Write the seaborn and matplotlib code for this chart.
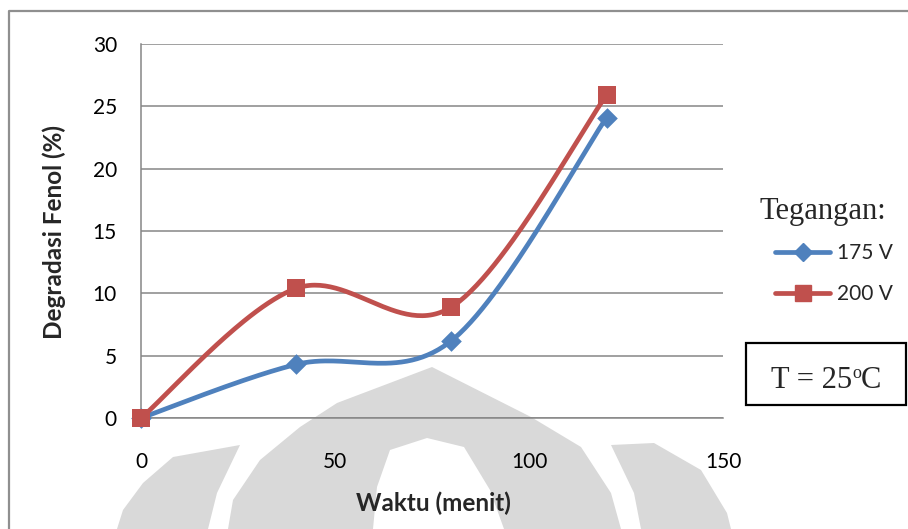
import numpy as np
import pandas as pd
import matplotlib
matplotlib.use("Agg")
import matplotlib.pyplot as plt
import seaborn as sns
from matplotlib.lines import Line2D
from matplotlib.patches import Polygon, Rectangle
from matplotlib.transforms import offset_copy

# Data: phenol degradation (%) versus time (minutes) for two voltages
waktu = [0, 40, 80, 120]
degradasi_175 = [0.0, 4.3, 6.2, 24.1]
degradasi_200 = [0.0, 10.4, 8.9, 25.9]
series_labels = ["175 V", "200 V"]
x_ticks = [0, 50, 100, 150]
y_ticks = [0, 5, 10, 15, 20, 25, 30]

BLUE = "#4F81BD"
RED = "#C0504D"
GRID = "#868686"
W, H = 908, 529

sns.set_style("white")
plt.rcParams["font.family"] = ["Lato", "DejaVu Sans"]


def smooth_curve(x, y, n=60):
    """Smoothed line through the points: cubic Bezier segments with Catmull-Rom control points."""
    pts = np.column_stack([x, y]).astype(float)
    out = [pts[:1]]
    t = np.linspace(0, 1, n)[1:, None]
    for i in range(len(pts) - 1):
        p0 = pts[max(i - 1, 0)]
        p1 = pts[i]
        p2 = pts[i + 1]
        p3 = pts[min(i + 2, len(pts) - 1)]
        c1 = p1 + (p2 - p0) / 6.0
        c2 = p2 - (p3 - p1) / 6.0
        seg = (1 - t) ** 3 * p1 + 3 * (1 - t) ** 2 * t * c1 + 3 * (1 - t) * t ** 2 * c2 + t ** 3 * p2
        out.append(seg)
    c = np.vstack(out)
    return c[:, 0], c[:, 1]


def px(x, y):
    return (x / W, 1 - y / H)


fig = plt.figure(figsize=(W / 100, H / 100), dpi=100)
fig.patch.set_facecolor("white")

# Light grey emblem printed behind the chart
emblem_color = "#d9d9d9"
shapes = [
    [(228, 529), (233, 500), (260, 460), (300, 427), (337, 403), (432, 367),
     (531, 417), (581, 447), (611, 493), (621, 529)],
    [(117, 529), (123, 510), (143, 483), (173, 457), (240, 445), (217, 493), (208, 529)],
    [(641, 529), (634, 493), (611, 445), (654, 443), (701, 470), (727, 513), (731, 529)],
]
for poly in shapes:
    fig.patches.append(Polygon([px(*p) for p in poly], closed=True, transform=fig.transFigure,
                               facecolor=emblem_color, edgecolor="none", zorder=-10))
inner = [(373, 529), (377, 487), (390, 450), (427, 438), (464, 447), (490, 490), (504, 529)]
fig.patches.append(Polygon([px(*p) for p in inner], closed=True, transform=fig.transFigure,
                           facecolor="white", edgecolor="none", zorder=-9))

# Chart area frame (top and left edges visible)
fig.add_artist(Line2D([px(9, 0)[0], px(9, 11)[0], px(908, 11)[0]],
                      [px(9, 529)[1], px(9, 11)[1], px(908, 11)[1]],
                      transform=fig.transFigure, color="#8f8f8f", lw=1.6, zorder=-8))

ax = fig.add_axes([141 / W, 1 - 418 / H, (723 - 141) / W, (418 - 44) / H])
ax.set_facecolor("none")

for yvals, color, marker, ms, z in [(degradasi_175, BLUE, "D", 10.5, 2),
                                    (degradasi_200, RED, "s", 13.5, 4)]:
    sx, sy = smooth_curve(waktu, yvals)
    df = pd.DataFrame({"x": sx, "y": sy})
    sns.lineplot(data=df, x="x", y="y", sort=False, estimator=None, color=color,
                 lw=3.4, ax=ax, zorder=z, solid_capstyle="round")
    sns.scatterplot(x=waktu, y=yvals, marker=marker, s=ms ** 2, color=color,
                    linewidth=0, ax=ax, zorder=z + 1, clip_on=False)

ax.set_xlim(0, 150)
ax.set_ylim(0, 30)
ax.set_xticks(x_ticks)
ax.set_yticks(y_ticks)
ax.yaxis.grid(True, color=GRID, lw=1.1)
ax.xaxis.grid(False)
ax.set_axisbelow(True)
for side in ["top", "right"]:
    ax.spines[side].set_visible(False)
for side in ["left", "bottom"]:
    ax.spines[side].set_color(GRID)
    ax.spines[side].set_linewidth(1.1)
ax.tick_params(axis="y", direction="out", length=5.8, width=1.1, color=GRID,
               pad=11.5, labelsize=15, labelcolor="black")
ax.tick_params(axis="x", direction="out", length=4.3, width=1.1, color=GRID,
               pad=20, labelsize=15, labelcolor="black")
ax.set_xlabel("")
ax.set_ylabel("")

fig.text(*px(433, 503), "Waktu (menit)", ha="center", va="center",
         fontsize=17.5, fontweight="bold")
fig.text(*px(54, 232), "Degradasi Fenol (%)", ha="center", va="center",
         rotation=90, fontsize=17.5, fontweight="bold")

# Legend
fig.text(*px(759, 212), "Tegangan:", ha="left", va="center",
         fontsize=22, family="Liberation Serif")
handles = [Line2D([], [], color=BLUE, lw=3.4, marker="D", markersize=9),
           Line2D([], [], color=RED, lw=3.4, marker="s", markersize=11)]
fig.legend(handles=handles, labels=series_labels, loc="center left",
           bbox_to_anchor=px(775, 273.5), bbox_transform=fig.transFigure,
           frameon=False, fontsize=15, handlelength=2.65, handletextpad=0.34,
           labelspacing=1.0, borderpad=0, borderaxespad=0)

# Temperature box with a small raised degree "o"
fig.patches.append(Rectangle(px(746, 405), (906 - 746) / W, (405 - 343) / H,
                             transform=fig.transFigure, facecolor="white",
                             edgecolor="black", lw=1.6, zorder=1))
serif = dict(family="Liberation Serif", zorder=2)
renderer = fig.canvas.get_renderer()
parts = [fig.text(0, 0, "T = 25", fontsize=22, va="baseline", **serif),
         fig.text(0, 0, "o", fontsize=13, va="baseline", **serif),
         fig.text(0, 0, "C", fontsize=22, va="baseline", **serif)]
widths = [p.get_window_extent(renderer).width for p in parts]
start = 826 - sum(widths) / 2
baseline = 388
rises = [0, 10, 0]
xpos = start
for p, w_, r in zip(parts, widths, rises):
    p.set_position(px(xpos, baseline - r))
    xpos += w_

fig.savefig("out.png", dpi=100)
